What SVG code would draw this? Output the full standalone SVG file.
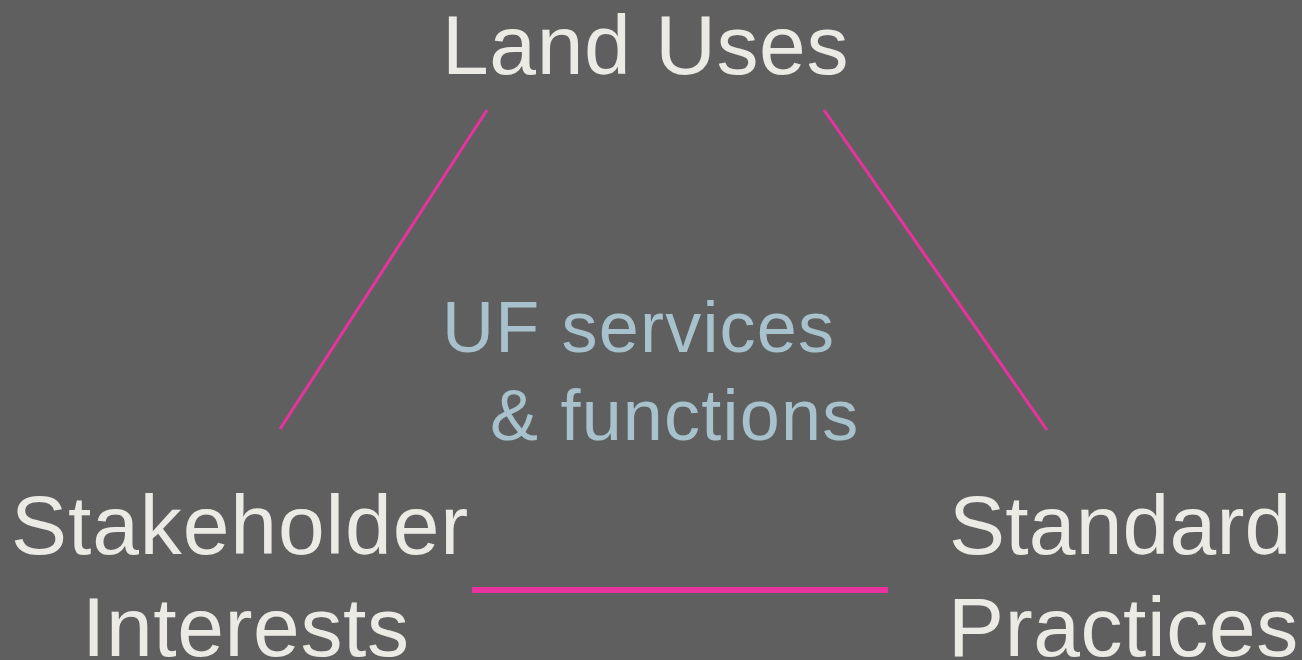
<svg xmlns="http://www.w3.org/2000/svg" width="1302" height="660" viewBox="0 0 1302 660">
<style>
.lbl{font-family:"Liberation Sans",Arial,sans-serif;font-size:84px;fill:#ebeae4;letter-spacing:0.6px}
.ctr{font-family:"Liberation Sans",Arial,sans-serif;font-size:72px;fill:#a7c2cc;letter-spacing:1.2px}
.con{stroke:#e8339f;fill:none}
</style>
<rect width="1302" height="660" fill="#5f5f5f"/>
<g id="connectors">
<line class="con" x1="487" y1="110" x2="280" y2="429" stroke-width="3"/>
<line class="con" x1="824" y1="110" x2="1047" y2="430" stroke-width="3"/>
<line class="con" x1="472" y1="590" x2="888" y2="590" stroke-width="6"/>
</g>
<g id="land-uses"><text class="lbl" x="442" y="74">Land Uses</text></g>
<g id="center"><text class="ctr" x="442" y="352">UF services</text><text class="ctr" x="490" y="440">&amp; functions</text></g>
<g id="stakeholder"><text class="lbl" x="11" y="554" style="letter-spacing:0.9px">Stakeholder</text><text class="lbl" x="82" y="656">Interests</text></g>
<g id="standard"><text class="lbl" x="949" y="554" style="letter-spacing:0.2px">Standard</text><text class="lbl" x="948" y="656">Practices</text></g>
</svg>
